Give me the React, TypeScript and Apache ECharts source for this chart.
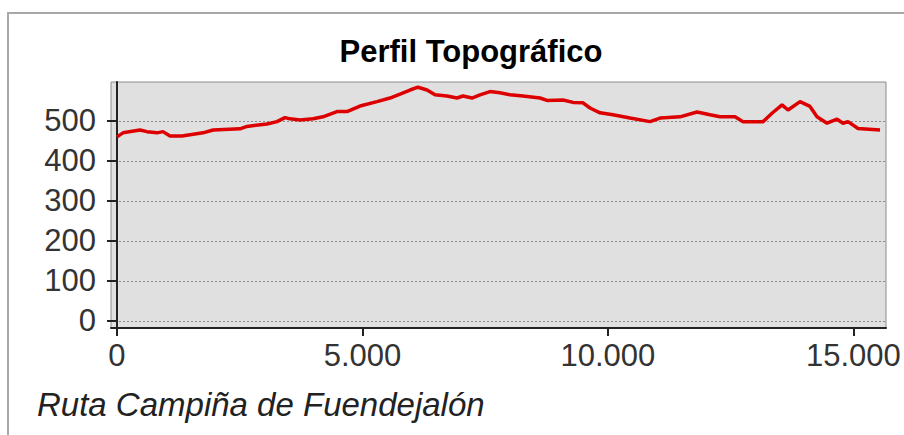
import React, { useEffect, useRef } from "react";
import * as echarts from "echarts";

const distance = [
  0, 122, 469, 611, 815, 937, 1080, 1324, 1752, 1956, 2506, 2648, 3056, 3259, 3422, 3524, 3728,
  3993, 4196, 4481, 4685, 4950, 5296, 5561, 5765, 5968, 6131, 6315, 6478, 6722, 6926, 7048, 7231,
  7394, 7598, 7802, 8005, 8270, 8617, 8759, 9085, 9289, 9492, 9635, 9839, 10103, 10450, 10857,
  11061, 11468, 11815, 12079, 12283, 12589, 12752, 13159, 13342, 13546, 13668, 13913, 14116,
  14259, 14463, 14666, 14789, 14890, 15094, 15542,
];
const elevation = [
  460, 470, 477, 473, 470, 473, 462, 462, 470, 477, 480, 486, 492, 498, 508, 505, 502,
  505, 510, 523, 523, 537, 548, 557, 567, 577, 584, 577, 565, 562, 557, 562, 557,
  565, 573, 570, 565, 562, 557, 551, 552, 546, 545, 532, 520, 515, 507, 498,
  507, 510, 522, 515, 510, 510, 498, 498, 519, 540, 527, 548, 536,
  510, 494, 504, 494, 498, 481, 477,
];
const yTicks = [0, 100, 200, 300, 400, 500];
const xTicks = [0, 5000, 10000, 15000];
const titleText = "Perfil Topográfico";
const footerText = "Ruta Campiña de Fuendejalón";

const FONT = "'Liberation Sans', Arial, sans-serif";

export default function App() {
  const ref = useRef<HTMLDivElement>(null);
  useEffect(() => {
    if (!ref.current) return;
    const chart = echarts.init(ref.current, null, { renderer: "svg" });
    const data = distance.map((d, i) => [d, elevation[i]]);
    chart.setOption({
      animation: false,
      backgroundColor: "#ffffff",
      title: {
        text: titleText,
        left: 466,
        top: 31,
        textAlign: "center",
        textStyle: { fontFamily: FONT, fontSize: 31, fontWeight: "bold", color: "#000" },
      },
      graphic: [
        {
          type: "rect",
          z: -10,
          shape: { x: 8, y: 13, width: 1000, height: 1000 },
          style: { fill: "none", stroke: "#a8a8a8", lineWidth: 2 },
        },
        {
          type: "text",
          x: 37,
          y: 404,
          style: {
            text: footerText,
            fontFamily: FONT,
            fontSize: 33,
            fontStyle: "italic",
            fill: "#222",
            verticalAlign: "middle",
            align: "left",
          },
        },
      ],
      grid: {
        left: 111,
        right: 18,
        top: 82,
        bottom: 107,
        show: true,
        backgroundColor: "#e0e0e0",
        borderColor: "#8c8c8c",
        borderWidth: 1,
      },
      xAxis: {
        type: "value",
        min: -122,
        max: 15664,
        axisLine: { show: true, onZero: false, lineStyle: { color: "#222", width: 2 } },
        axisTick: { show: true, length: 8, customValues: xTicks, lineStyle: { color: "#222", width: 2 } },
        axisLabel: {
          customValues: xTicks,
          margin: 12,
          fontFamily: FONT,
          fontSize: 31,
          color: "#333",
          formatter: (v: number) => String(v).replace(/\B(?=(\d{3})+(?!\d))/g, "."),
        },
        splitLine: { show: false },
      },
      yAxis: {
        type: "value",
        min: -17.5,
        max: 597,
        axisLine: { show: true, lineStyle: { color: "#222", width: 2 } },
        axisTick: { show: true, length: 10, customValues: yTicks, lineStyle: { color: "#222", width: 2 } },
        axisLabel: {
          customValues: yTicks,
          margin: 15,
          fontFamily: FONT,
          fontSize: 31,
          color: "#333",
        },
        splitLine: { show: true, lineStyle: { color: "#8a8a8a", width: 1, type: [2, 2] } },
      },
      series: [
        {
          type: "line",
          data,
          showSymbol: false,
          symbol: "none",
          lineStyle: { color: "#dd0000", width: 3.5 },
          z: 5,
        },
      ],
    });
    return () => chart.dispose();
  }, []);
  return (
    <div
      ref={ref}
      style={{ position: "fixed", left: 0, top: 0, width: 904, height: 435 }}
    />
  );
}
